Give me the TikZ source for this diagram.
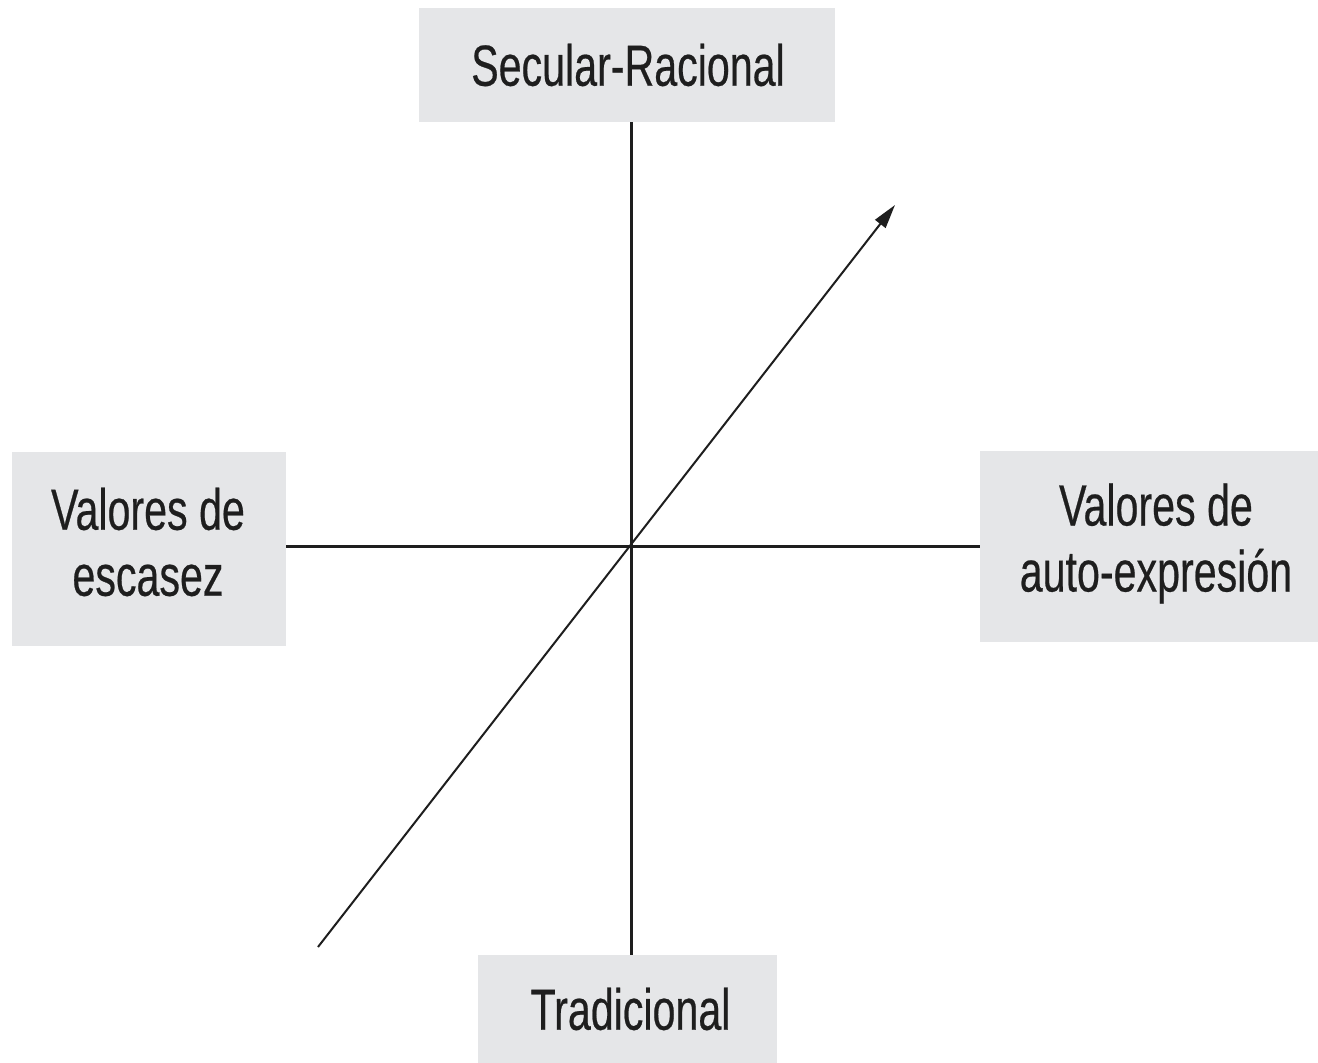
\documentclass[tikz,border=0pt]{standalone}
\usepackage{fontspec}
\newfontfamily\lab[FakeStretch=0.71,FakeBold=0.4]{Liberation Sans}
\usetikzlibrary{arrows.meta}
\definecolor{boxgray}{HTML}{E5E6E8}
\definecolor{ink}{HTML}{1E1E1E}
\begin{document}
\begin{tikzpicture}[x=1pt,y=-1pt,
  box/.style={fill=boxgray,draw=none,inner sep=0pt},
  txt/.style={inner sep=0pt,align=center,text=ink,
    font=\lab\fontsize{58}{66}\selectfont},
  axis/.style={draw=ink,line width=3pt},
  diag/.style={draw=ink,line width=2pt,-{Triangle[length=24pt,width=13pt]}}]
\useasboundingbox (0,0) rectangle (1318,1063);
\node[box,minimum width=416pt,minimum height=114pt] (top) at (627,65) {};
\node[box,minimum width=274pt,minimum height=194pt] (left) at (149,549) {};
\node[box,minimum width=338pt,minimum height=191pt] (right) at (1149,546.5) {};
\node[box,minimum width=299pt,minimum height=108pt] (bot) at (627.5,1009) {};
\node[txt] (ttop) at ([shift={(1,0)}]top.center) {Secular-Racional};
\node[txt] (tleft) at ([shift={(-1,-7)}]left.center) {Valores de\\escasez};
\node[txt] (tright) at ([shift={(7,-3)}]right.center) {Valores de\\auto-expresión};
\node[txt] (tbot) at ([shift={(3,0)}]bot.center) {Tradicional};
\coordinate (c) at (631,546);
\coordinate (d1) at (318,947);
\coordinate (d2) at (895,205);
\draw[axis] (top.south -| c) -- (bot.north -| c);
\draw[axis] (left.east |- c) -- (right.west |- c);
\draw[diag] (d1) -- (d2);
\end{tikzpicture}
\end{document}
